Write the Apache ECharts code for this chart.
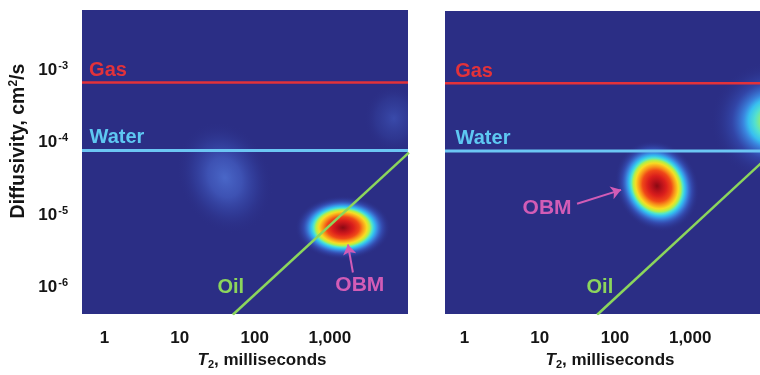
<!DOCTYPE html>
<html>
<head>
<meta charset="utf-8">
<script src="https://cdn.jsdelivr.net/npm/echarts@6/dist/echarts.min.js"></script>
<style>
  html, body { margin: 0; padding: 0; background: #ffffff; overflow: hidden; }
  #chart { width: 760px; height: 375px; }
</style>
</head>
<body>
<div id="chart"></div>
<script>
// ---- Axis ticks (log scales) and their printed labels ----
const xTickValues = [1, 10, 100, 1000];
const xTickLabels = ['1', '10', '100', '1,000'];
const yTickValues = [1e-6, 1e-5, 1e-4, 1e-3];
const yTickExponents = ['-6', '-5', '-4', '-3'];

// ---- Reference diffusivities, cm2/s ----
const gasD = 6.8e-4;
const waterD = 7.8e-5;

// ---- Oil line [T2 ms, D cm2/s], one per panel ----
const oilLineLeft = [[51, 4.2e-7], [11300, 7.3e-5]];
const oilLineRight = [[58, 4.2e-7], [13400, 8.0e-5]];

// ---- Signal peaks [T2 ms, D cm2/s] ----
const peaksLeft = [[1494, 6.7e-6], [40, 3.3e-5], [7130, 2.17e-4]];
const peaksRight = [[362, 2.56e-5], [12270, 2.03e-4]];

// ---- Panel extents (the right panel runs past the page edge) ----
const xRangeLeft = [0.5, 11000];
const xRangeRight = [0.55, 13400];
const yRange = [4.3e-7, 6.8e-3];

// ---- Styling ----
const FONT = '"Liberation Sans", Arial, sans-serif';
const BG = '#2b2e85';
const INK = '#151515';
const C_GAS = '#e3323a';
const C_WATER = '#6cc6f4';
const C_OIL = '#8cd65c';
const C_OBM = '#d25cb6';

// Colour ramp of a strong peak, centre -> rim
const hotStops = [
  [0.00, '#8a0a12'], [0.10, '#b2101a'], [0.22, '#da1e1c'], [0.34, '#f04818'],
  [0.42, '#f8961a'], [0.50, '#f8dc22'], [0.56, '#b4f048'], [0.61, '#54e6c8'],
  [0.66, '#32c0f0'], [0.72, '#3a88e0'], [0.82, 'rgba(58,95,205,0.55)'],
  [0.92, 'rgba(50,70,170,0.2)'], [1.00, 'rgba(43,46,133,0)']
];
const warmStops = [
  [0.00, '#e4ea32'], [0.15, '#a0f060'], [0.28, '#52e0d0'], [0.38, '#38c0f0'],
  [0.46, '#3a88e0'], [0.65, 'rgba(58,95,205,0.45)'], [0.85, 'rgba(50,70,170,0.15)'],
  [1.00, 'rgba(43,46,133,0)']
];
const faintStops = [
  [0.00, 'rgba(84,122,222,0.75)'], [0.35, 'rgba(74,106,210,0.6)'],
  [0.65, 'rgba(60,85,188,0.3)'], [1.00, 'rgba(43,46,133,0)']
];
const dimStops = [
  [0.00, 'rgba(72,102,208,0.5)'], [0.6, 'rgba(60,85,185,0.22)'], [1.00, 'rgba(43,46,133,0)']
];

// Ellipse shape of each peak (pixels / radians)
const peakShapeLeft = [
  { rx: 48, ry: 32, rot: 0, stops: hotStops },
  { rx: 46, ry: 58, rot: 0.4, stops: faintStops },
  { rx: 30, ry: 34, rot: 0, stops: dimStops }
];
const peakShapeRight = [
  { rx: 41, ry: 47, rot: 0.5, stops: hotStops },
  { rx: 62, ry: 60, rot: 0, stops: warmStops }
];

function gradient(stops) {
  return new echarts.graphic.RadialGradient(0.5, 0.5, 0.5,
    stops.map(s => ({ offset: s[0], color: s[1] })));
}

function peakRenderer(shapes) {
  return function (params, api) {
    const s = shapes[params.dataIndex];
    const c = api.coord([api.value(0), api.value(1)]);
    return {
      type: 'circle',
      x: c[0], y: c[1],
      scaleX: s.rx / 50, scaleY: s.ry / 50,
      rotation: s.rot,
      shape: { cx: 0, cy: 0, r: 50 },
      style: { fill: gradient(s.stops) },
      silent: true
    };
  };
}

function xLabel(v) {
  for (let i = 0; i < xTickValues.length; i++) {
    if (Math.abs(Math.log10(v / xTickValues[i])) < 1e-6) return xTickLabels[i];
  }
  return '';
}
function yLabel(v) {
  for (let i = 0; i < yTickValues.length; i++) {
    if (Math.abs(Math.log10(v / yTickValues[i])) < 1e-6) return '{b|10}{sup|' + yTickExponents[i] + '}';
  }
  return '';
}

const boldText = { fontFamily: FONT, fontWeight: 'bold', color: INK };

function xAxisFor(gridIndex, range, namePad) {
  return {
    type: 'log', logBase: 10, gridIndex: gridIndex, min: range[0], max: range[1],
    axisLine: { show: false }, axisTick: { show: false }, splitLine: { show: false },
    axisLabel: Object.assign({ formatter: xLabel, fontSize: 17, margin: 16 }, boldText),
    name: '{i|T}{s|2}{r|, milliseconds}',
    nameLocation: 'middle', nameGap: 37,
    nameTextStyle: {
      padding: [0, 0, 0, namePad],
      rich: {
        i: Object.assign({ fontSize: 17, fontStyle: 'italic' }, boldText),
        s: Object.assign({ fontSize: 11, padding: [8, 0, 0, 0] }, boldText),
        r: Object.assign({ fontSize: 17 }, boldText)
      }
    }
  };
}

function yAxisFor(gridIndex, withLabels) {
  const ax = {
    type: 'log', logBase: 10, gridIndex: gridIndex, min: yRange[0], max: yRange[1],
    axisLine: { show: false }, axisTick: { show: false }, splitLine: { show: false },
    axisLabel: {
      show: withLabels, formatter: yLabel, margin: 14,
      rich: {
        b: Object.assign({ fontSize: 17 }, boldText),
        sup: Object.assign({ fontSize: 11, padding: [0, 0, 9, 1] }, boldText)
      }
    }
  };
  if (withLabels) {
    ax.name = '{b|Diffusivity, cm}{sup|2}{b|/s}';
    ax.nameLocation = 'middle';
    ax.nameGap = 52;
    ax.nameTextStyle = {
      padding: [0, 0, 0, 42],
      rich: {
        b: Object.assign({ fontSize: 19.5 }, boldText),
        sup: Object.assign({ fontSize: 12, padding: [0, 0, 10, 0] }, boldText)
      }
    };
  }
  return ax;
}

function tag(text, coord, color, size) {
  return {
    coord: coord, value: text, symbol: 'circle', symbolSize: 1,
    itemStyle: { color: 'rgba(0,0,0,0)' },
    label: {
      show: true, position: 'inside', formatter: text, color: color,
      fontSize: size, fontWeight: 'bold', fontFamily: FONT
    }
  };
}

function hLine(panel, range, value, color, width, label) {
  return {
    type: 'line', xAxisIndex: panel, yAxisIndex: panel, z: 4,
    data: [[range[0], value], [range[1], value]],
    symbol: 'none', silent: true, animation: false,
    lineStyle: { color: color, width: width },
    markPoint: { silent: true, animation: false, data: [label] }
  };
}

function panelSeries(panel, range, peaks, shapes, oil, labels, arrow) {
  return [
    {
      type: 'custom', xAxisIndex: panel, yAxisIndex: panel, z: 1, clip: true,
      data: peaks, renderItem: peakRenderer(shapes), silent: true, animation: false
    },
    hLine(panel, range, gasD, C_GAS, 2.5, tag('Gas', labels.gas, C_GAS, 20)),
    hLine(panel, range, waterD, C_WATER, 3, tag('Water', labels.water, '#5ec8f2', 20)),
    {
      type: 'line', xAxisIndex: panel, yAxisIndex: panel, z: 5,
      data: oil, symbol: 'none', silent: true, animation: false,
      lineStyle: { color: C_OIL, width: 2.5 },
      markPoint: {
        silent: true, animation: false,
        data: [tag('Oil', labels.oil, C_OIL, 20), tag('OBM', labels.obm, C_OBM, 21)]
      },
      markLine: {
        silent: true, animation: false, symbol: ['none', 'arrow'], symbolSize: 10,
        label: { show: false },
        lineStyle: { color: C_OBM, width: 2, type: 'solid' },
        data: [[{ coord: arrow[0] }, { coord: arrow[1] }]]
      }
    }
  ];
}

// Text anchors [T2, D] for the annotations of each panel
const labelsLeft = { gas: [1.11, 1.0e-3], water: [1.46, 1.18e-4], oil: [48, 1.0e-6], obm: [2510, 1.06e-6] };
const labelsRight = { gas: [1.34, 1.0e-3], water: [1.76, 1.18e-4], oil: [63, 1.0e-6], obm: [12.5, 1.27e-5] };
const arrowLeft = [[2030, 1.61e-6], [1742, 3.92e-6]];
const arrowRight = [[31.3, 1.45e-5], [120.5, 2.26e-5]];

const option = {
  animation: false,
  backgroundColor: '#ffffff',
  grid: [
    { left: 82, top: 10, width: 326, height: 304, outerBoundsMode: 'none',
      show: true, backgroundColor: BG, borderWidth: 0 },
    { left: 445, top: 11, width: 330, height: 303, outerBoundsMode: 'none',
      show: true, backgroundColor: BG, borderWidth: 0 }
  ],
  xAxis: [xAxisFor(0, xRangeLeft, 34), xAxisFor(1, xRangeRight, 0)],
  yAxis: [yAxisFor(0, true), yAxisFor(1, false)],
  series: [].concat(
    panelSeries(0, xRangeLeft, peaksLeft, peakShapeLeft, oilLineLeft, labelsLeft, arrowLeft),
    panelSeries(1, xRangeRight, peaksRight, peakShapeRight, oilLineRight, labelsRight, arrowRight)
  )
};

const chart = echarts.init(document.getElementById('chart'));
chart.setOption(option);
</script>
</body>
</html>
